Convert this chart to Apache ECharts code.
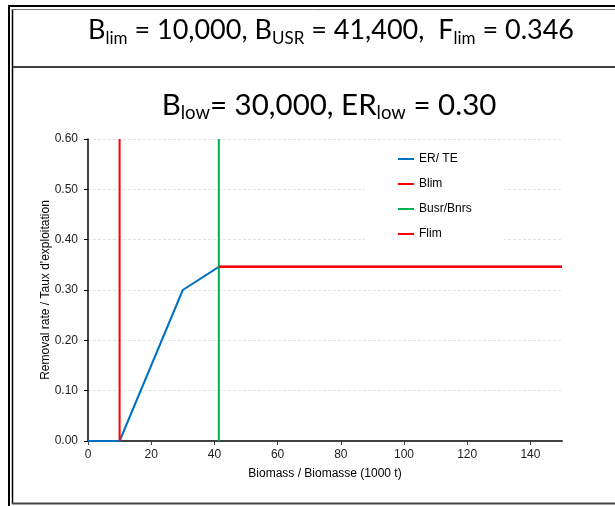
<!DOCTYPE html>
<html>
<head>
<meta charset="utf-8">
<script src="https://cdn.jsdelivr.net/npm/echarts@6/dist/echarts.min.js"></script>
<style>
  html, body { margin: 0; padding: 0; background: #fff; }
  #chart { width: 615px; height: 506px; }
</style>
</head>
<body>
<div id="chart"></div>
<script>
// harvest control rule data
const biomass = [0, 10, 30, 41.4, 150];
const erTe = [0, 0, 0.30, 0.346, 0.346];
const blimX = [10, 10];
const blimY = [0, 0.6];
const busrX = [41.4, 41.4];
const busrY = [0, 0.6];
const flimX = [41.4, 150];
const flimY = [0.346, 0.346];
const xTicks = [0, 20, 40, 60, 80, 100, 120, 140];

const pairs = (xs, ys) => xs.map((x, i) => [x, ys[i]]);

const titleFont = 'Lato';
const rich1 = {
  m: { fontFamily: titleFont, fontSize: 27, lineHeight: 34, color: '#000' },
  s: { fontFamily: titleFont, fontSize: 17, lineHeight: 16, verticalAlign: 'bottom', color: '#000' }
};
const rich2 = {
  m: { fontFamily: titleFont, fontSize: 29.5, lineHeight: 36, color: '#000' },
  s: { fontFamily: titleFont, fontSize: 18.5, lineHeight: 17, verticalAlign: 'bottom', color: '#000' }
};

const chart = echarts.init(document.getElementById('chart'));

const option = {
  animation: false,
  backgroundColor: '#fff',
  textStyle: { fontFamily: 'Liberation Sans' },
  grid: { left: 88, right: 53, top: 139, bottom: 65, outerBoundsMode: 'none' },
  legend: {
    orient: 'vertical',
    left: 365,
    top: 147,
    padding: [6, 33, 6, 32],
    backgroundColor: '#fff',
    itemWidth: 16,
    itemHeight: 12,
    itemGap: 13,
    itemStyle: { opacity: 0 },
    textStyle: { fontSize: 12, color: '#000', fontFamily: 'Liberation Sans' },
    data: ['ER/ TE', 'Blim', 'Busr/Bnrs', 'Flim']
  },
  xAxis: {
    type: 'value',
    min: 0,
    max: 150,
    interval: 20,
    name: 'Biomass / Biomasse (1000 t)',
    nameLocation: 'middle',
    nameGap: 27,
    nameMoveOverlap: false,
    nameTextStyle: { fontSize: 12, color: '#000' },
    axisLine: { lineStyle: { color: '#404040', width: 2 } },
    axisTick: { show: true, length: 4, customValues: xTicks, lineStyle: { color: '#404040' } },
    axisLabel: { fontSize: 12, color: '#222', margin: 8, customValues: xTicks },
    splitLine: { show: false }
  },
  yAxis: {
    type: 'value',
    min: 0,
    max: 0.6,
    interval: 0.1,
    name: "Removal rate / Taux d'exploitation",
    nameLocation: 'middle',
    nameGap: 36,
    nameMoveOverlap: false,
    nameTextStyle: { fontSize: 12, color: '#000' },
    axisLine: { show: true, lineStyle: { color: '#000', width: 1.5 } },
    axisTick: { show: true, length: 4, lineStyle: { color: '#000' } },
    axisLabel: { fontSize: 12, color: '#222', margin: 10, formatter: v => v.toFixed(2) },
    splitLine: { show: true, lineStyle: { color: '#e4e4e4', type: [3, 2], width: 1 } }
  },
  series: [
    {
      name: 'ER/ TE', type: 'line', symbol: 'none',
      lineStyle: { color: '#0070C0', width: 2 }, itemStyle: { color: '#0070C0' },
      data: pairs(biomass, erTe)
    },
    {
      name: 'Blim', type: 'line', symbol: 'none',
      lineStyle: { color: '#FF0000', width: 2 }, itemStyle: { color: '#FF0000' },
      data: pairs(blimX, blimY)
    },
    {
      name: 'Busr/Bnrs', type: 'line', symbol: 'none',
      lineStyle: { color: '#00B050', width: 2 }, itemStyle: { color: '#00B050' },
      data: pairs(busrX, busrY)
    },
    {
      name: 'Flim', type: 'line', symbol: 'none',
      lineStyle: { color: '#FF0000', width: 2.5 }, itemStyle: { color: '#FF0000' },
      data: pairs(flimX, flimY)
    }
  ],
  graphic: [
    // outer frame
    { type: 'line', shape: { x1: 9, y1: 5, x2: 9, y2: 506 }, style: { stroke: '#000', lineWidth: 2 } },
    { type: 'line', shape: { x1: 8, y1: 6, x2: 615, y2: 6 }, style: { stroke: '#000', lineWidth: 2 } },
    { type: 'line', shape: { x1: 12.5, y1: 9, x2: 12.5, y2: 504 }, style: { stroke: '#000', lineWidth: 1.5 } },
    { type: 'line', shape: { x1: 12, y1: 9.5, x2: 615, y2: 9.5 }, style: { stroke: '#777', lineWidth: 1 } },
    { type: 'line', shape: { x1: 12, y1: 67, x2: 615, y2: 67 }, style: { stroke: '#000', lineWidth: 1.5 } },
    { type: 'line', shape: { x1: 12, y1: 503.5, x2: 615, y2: 503.5 }, style: { stroke: '#444', lineWidth: 2 } },
    {
      type: 'text', x: 331, y: 30,
      style: {
        text: '{m|B}{s|lim}{m| = 10,000, B}{s|USR}{m| = 41,400,  F}{s|lim}{m| = 0.346}',
        rich: rich1, align: 'center', verticalAlign: 'middle'
      }
    },
    {
      type: 'text', x: 329, y: 105,
      style: {
        text: '{m|B}{s|low}{m|= 30,000, ER}{s|low}{m| = 0.30}',
        rich: rich2, align: 'center', verticalAlign: 'middle'
      }
    }
  ]
};

chart.setOption(option);
</script>
</body>
</html>
